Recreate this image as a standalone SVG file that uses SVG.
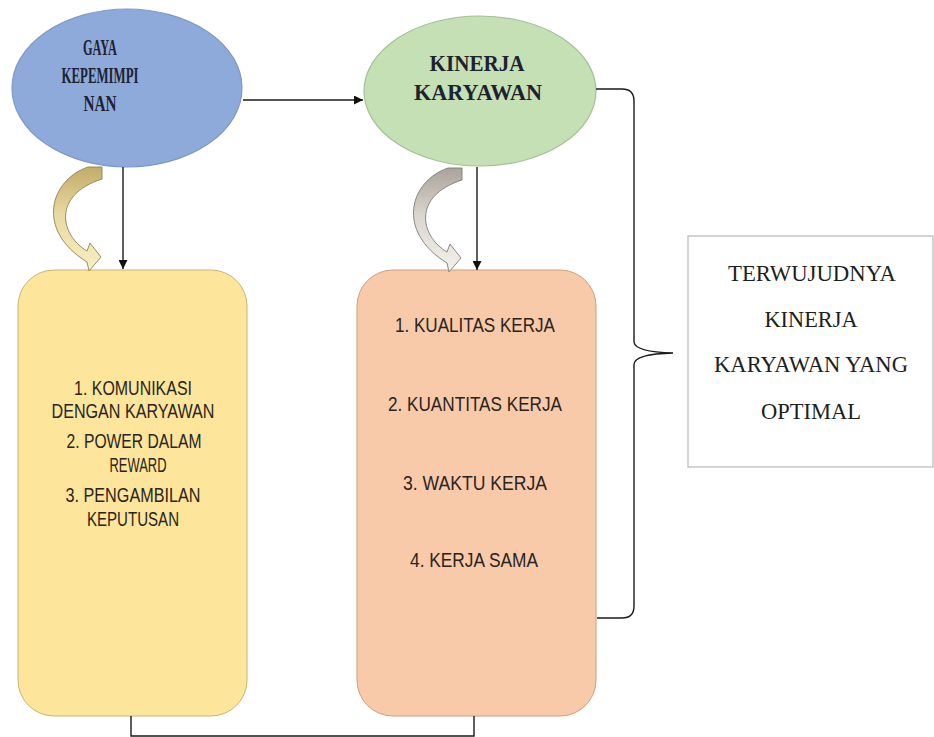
<svg xmlns="http://www.w3.org/2000/svg" width="934" height="737" viewBox="0 0 934 737">
<defs>
<style>
.serifb{font-family:"Liberation Serif","Times New Roman",serif;font-weight:bold;font-size:23px;fill:#1c2230;text-anchor:middle}
.serif{font-family:"Liberation Serif","Times New Roman",serif;font-size:24px;fill:#1e1e1e;text-anchor:middle}
.sans{font-family:"Liberation Sans",Arial,sans-serif;font-size:20px;fill:#2a2420;text-anchor:middle}
.conn{fill:none;stroke:#1a1a1a;stroke-width:1.4}
</style>
<marker id="ah" viewBox="0 0 10 10" refX="10" refY="5" markerWidth="9" markerHeight="9" markerUnits="userSpaceOnUse" orient="auto">
<path d="M0,0 L10,5 L0,10 Z" fill="#111"/>
</marker>
<linearGradient id="gy" x1="0" y1="0" x2="0" y2="1">
<stop offset="0" stop-color="#c4ab68"/>
<stop offset="0.45" stop-color="#e8d9a2"/>
<stop offset="1" stop-color="#f8efc0"/>
</linearGradient>
<linearGradient id="gg" x1="0" y1="0" x2="0" y2="1">
<stop offset="0" stop-color="#aaa39b"/>
<stop offset="0.45" stop-color="#dad5ce"/>
<stop offset="1" stop-color="#f4f1ec"/>
</linearGradient>
<path id="curv" d="M 88,167 C 50,180 35,230 87,262 L 89,271 L 101,257 L 90,243 L 87,251 C 60,235 52,195 102,179 L 102,167 Z"/>
</defs>
<rect width="934" height="737" fill="#ffffff"/>

<g id="node-gaya">
<ellipse cx="127" cy="88" rx="115" ry="79" fill="#8eaadb" stroke="#7f98c6" stroke-width="1.2"/>
<text class="serifb" x="100" y="55" textLength="34" lengthAdjust="spacingAndGlyphs">GAYA</text>
<text class="serifb" x="100" y="83" textLength="77" lengthAdjust="spacingAndGlyphs">KEPEMIMPI</text>
<text class="serifb" x="100" y="111" textLength="33" lengthAdjust="spacingAndGlyphs">NAN</text>
</g>

<g id="node-kinerja">
<ellipse cx="480" cy="91" rx="116" ry="75" fill="#c5e0b4" stroke="#a6bf98" stroke-width="1.2"/>
<text class="serifb" x="477" y="71" textLength="95" lengthAdjust="spacingAndGlyphs">KINERJA</text>
<text class="serifb" x="478" y="100" textLength="128" lengthAdjust="spacingAndGlyphs">KARYAWAN</text>
</g>

<g id="node-indikator-gaya">
<rect x="18" y="270" width="229" height="446" rx="36" ry="36" fill="#fde59b" stroke="#c8b47a" stroke-width="1"/>
<text class="sans" x="133" y="395" textLength="118" lengthAdjust="spacingAndGlyphs">1. KOMUNIKASI</text>
<text class="sans" x="133" y="418" textLength="163" lengthAdjust="spacingAndGlyphs">DENGAN KARYAWAN</text>
<text class="sans" x="134" y="448" textLength="135" lengthAdjust="spacingAndGlyphs">2. POWER DALAM</text>
<text class="sans" x="138" y="472" textLength="57" lengthAdjust="spacingAndGlyphs">REWARD</text>
<text class="sans" x="133" y="502" textLength="135" lengthAdjust="spacingAndGlyphs">3. PENGAMBILAN</text>
<text class="sans" x="133" y="526" textLength="92" lengthAdjust="spacingAndGlyphs">KEPUTUSAN</text>
</g>

<g id="node-indikator-kinerja">
<rect x="357" y="270" width="239" height="446" rx="36" ry="36" fill="#f8caa9" stroke="#caa080" stroke-width="1"/>
<text class="sans" x="475" y="332" textLength="160" lengthAdjust="spacingAndGlyphs">1. KUALITAS KERJA</text>
<text class="sans" x="475" y="411" textLength="174" lengthAdjust="spacingAndGlyphs">2. KUANTITAS KERJA</text>
<text class="sans" x="475" y="490" textLength="144" lengthAdjust="spacingAndGlyphs">3. WAKTU KERJA</text>
<text class="sans" x="474" y="567" textLength="128" lengthAdjust="spacingAndGlyphs">4. KERJA SAMA</text>
</g>

<g id="node-hasil">
<rect x="688" y="236" width="245" height="231" fill="#ffffff" stroke="#b8b8b8" stroke-width="1.2"/>
<text class="serif" x="812" y="281" textLength="168" lengthAdjust="spacingAndGlyphs">TERWUJUDNYA</text>
<text class="serif" x="811" y="327" textLength="93" lengthAdjust="spacingAndGlyphs">KINERJA</text>
<text class="serif" x="811" y="372" textLength="194" lengthAdjust="spacingAndGlyphs">KARYAWAN YANG</text>
<text class="serif" x="811" y="419" textLength="100" lengthAdjust="spacingAndGlyphs">OPTIMAL</text>
</g>

<g id="connectors">
<line class="conn" x1="243" y1="100" x2="363" y2="100" marker-end="url(#ah)"/>
<line class="conn" x1="123" y1="167" x2="123" y2="269" marker-end="url(#ah)"/>
<line class="conn" x1="477" y1="167" x2="477" y2="270" marker-end="url(#ah)"/>
<use href="#curv" fill="url(#gy)" stroke="#8c8256" stroke-width="0.9"/>
<use href="#curv" transform="translate(360,1)" fill="url(#gg)" stroke="#7e7a74" stroke-width="0.9"/>
<path class="conn" d="M 596,89 L 622,89 Q 634,89 634,101 L 634,342 Q 635,352 673,353 Q 635,354 634,364 L 634,606 Q 634,618 622,618 L 597,618"/>
<path class="conn" d="M 131,716 L 131,736 L 474,736 L 474,716"/>
</g>
</svg>
